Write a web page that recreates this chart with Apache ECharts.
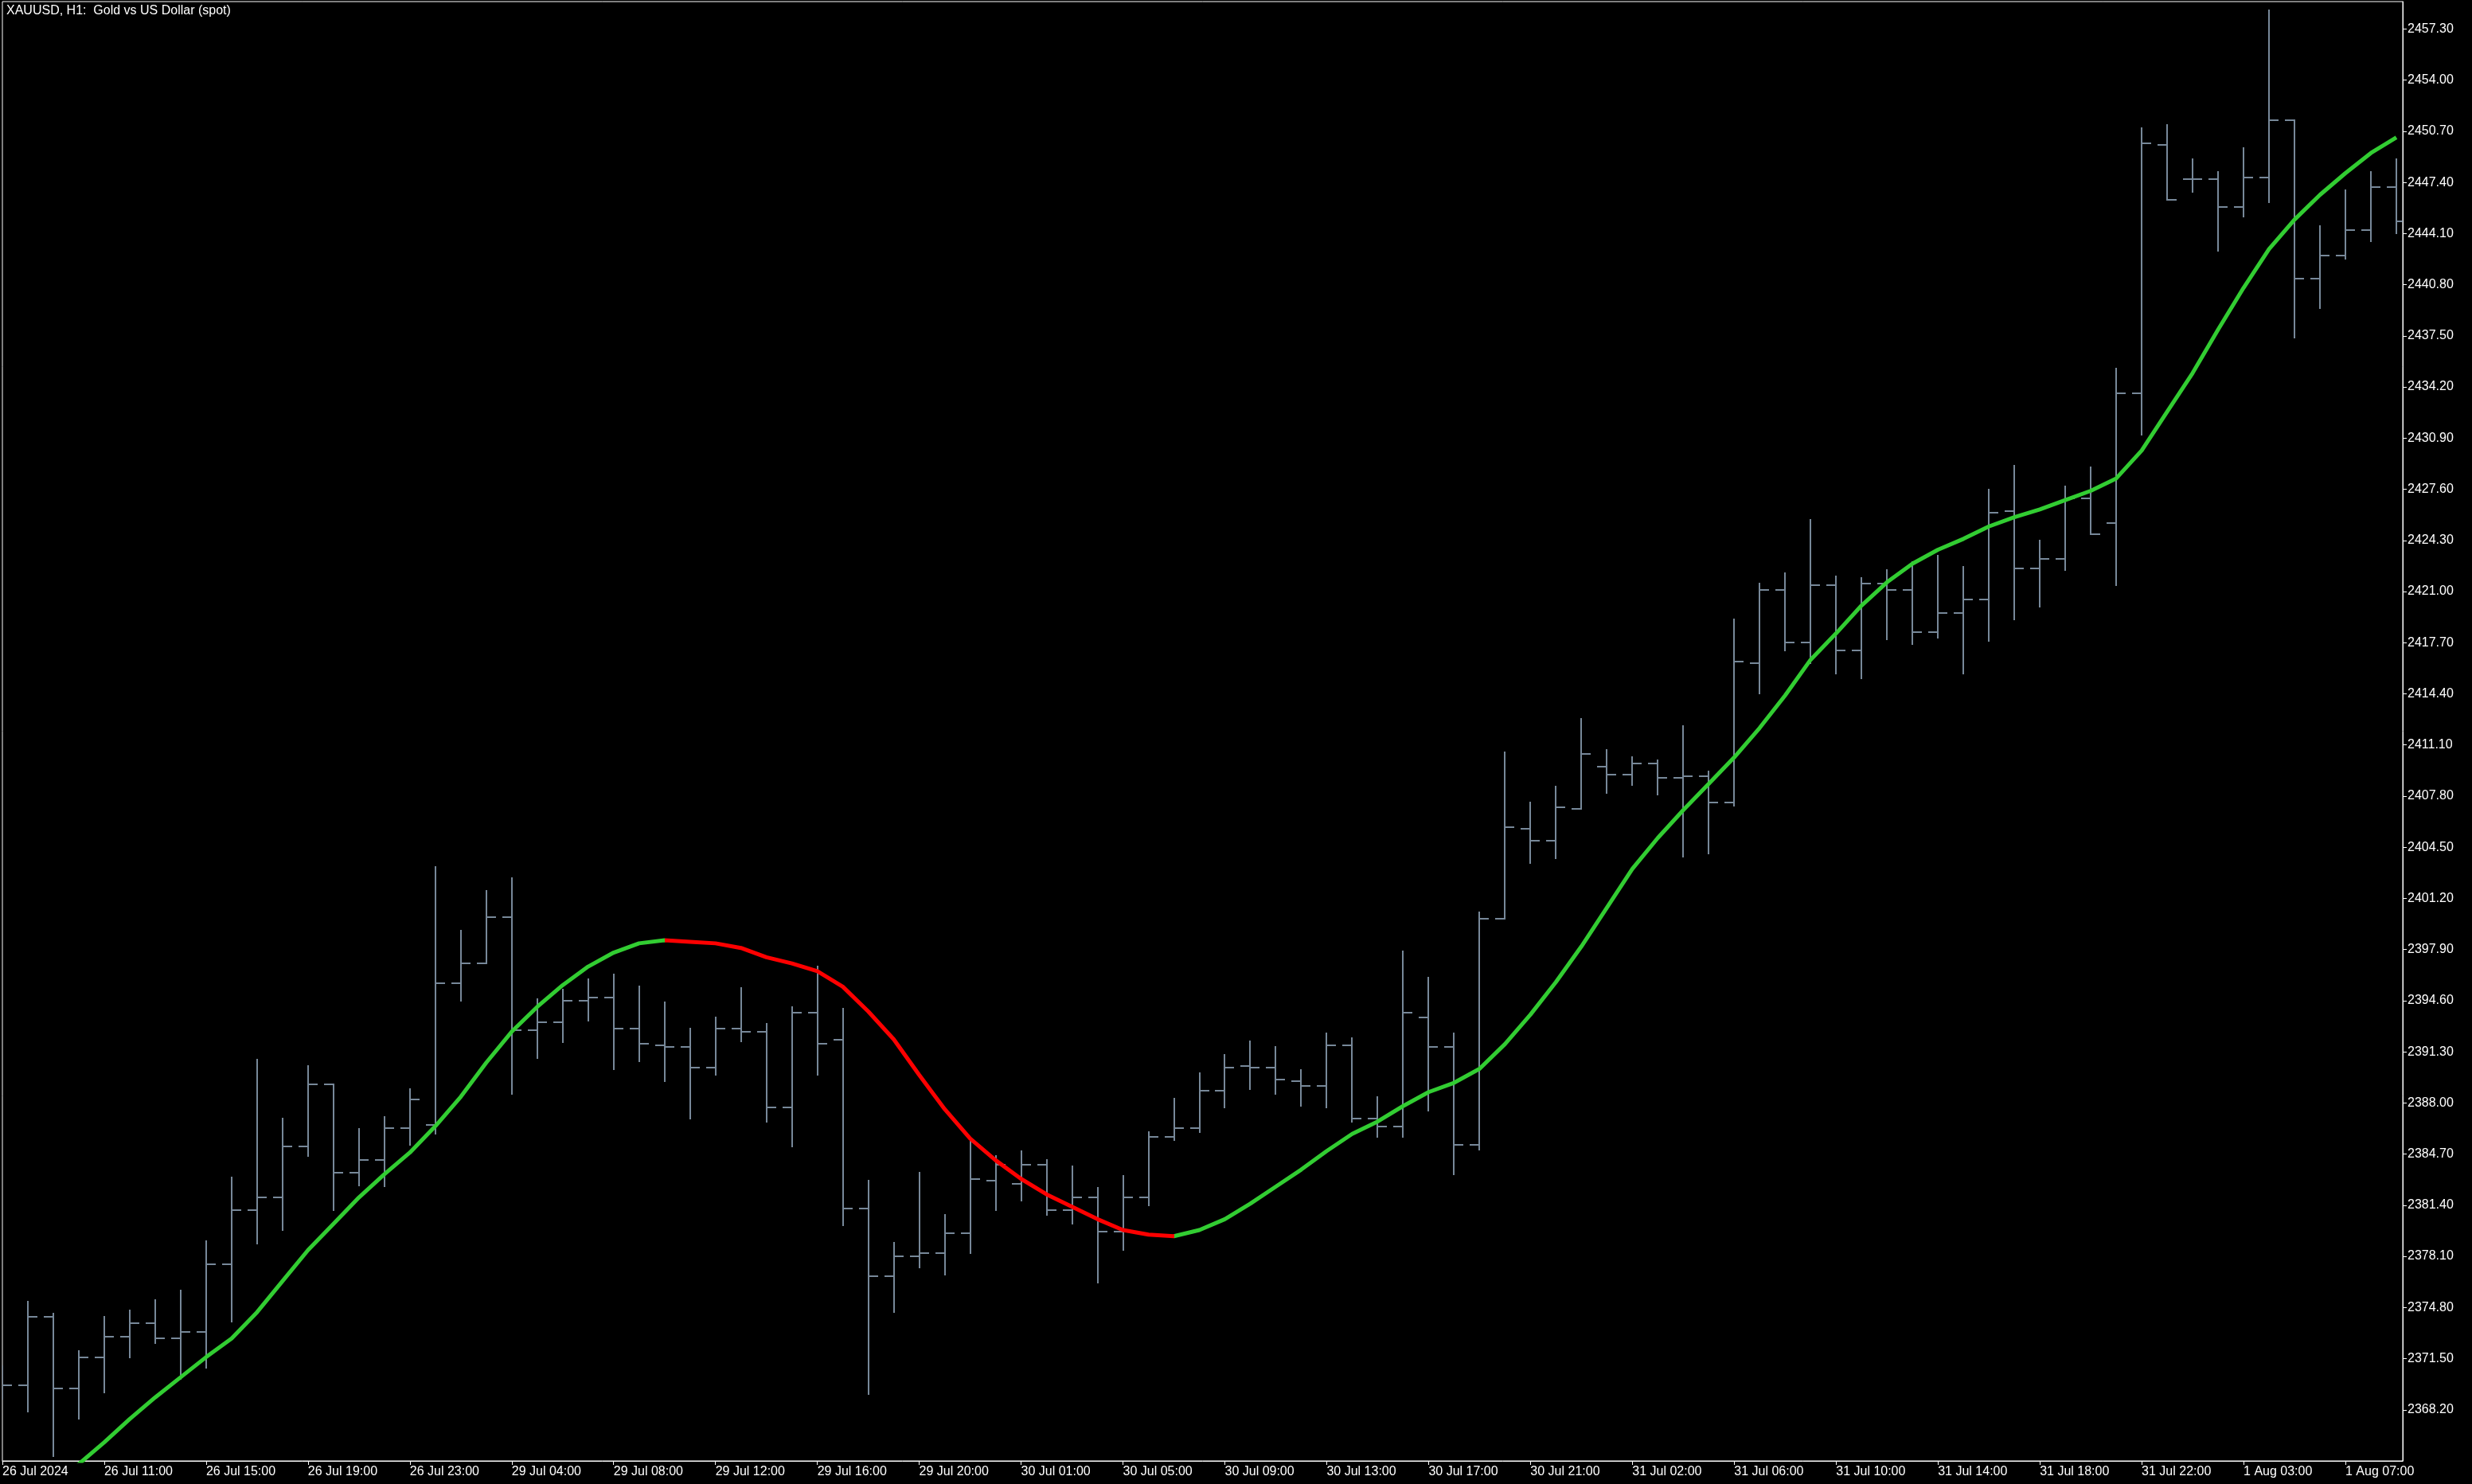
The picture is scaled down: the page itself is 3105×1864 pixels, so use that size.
<!DOCTYPE html>
<html>
<head>
<meta charset="utf-8">
<title>XAUUSD H1</title>
<script src="https://cdn.jsdelivr.net/npm/echarts@6/dist/echarts.min.js"></script>
<style>
  html, body { margin: 0; padding: 0; background: #000; }
  #main { width: 3105px; height: 1864px; }
</style>
</head>
<body>
<div id="main"></div>
<script>
// hourly bars, 26 Jul 2024 07:00 .. 1 Aug 2024 09:00
const opens = [
  2370.3, 2369.8, 2374.2, 2369.6, 2371.6, 2372.9, 2373.8, 2372.8, 2373.2, 2377.6,
  2381.1, 2381.9, 2385.2, 2389.2, 2383.5, 2384.3, 2386.4, 2386.6, 2395.7, 2397.0,
  2400.0, 2392.7, 2393.2, 2394.6, 2394.8, 2392.8, 2391.7, 2391.6, 2390.3, 2392.8,
  2392.6, 2387.7, 2393.8, 2392.1, 2381.2, 2376.8, 2378.1, 2378.3, 2379.6, 2383.0,
  2382.8, 2384.0, 2381.1, 2381.9, 2379.7, 2381.9, 2385.8, 2386.4, 2388.8, 2390.4,
  2390.3, 2389.4, 2389.1, 2391.7, 2387.0, 2386.5, 2393.5, 2391.6, 2385.3, 2399.9,
  2405.7, 2404.9, 2407.0, 2409.7, 2409.2, 2409.9, 2409.0, 2409.1, 2407.4, 2416.4,
  2421.1, 2417.7, 2421.4, 2417.2, 2421.5, 2421.1, 2418.4, 2419.6, 2420.5, 2426.2,
  2422.5, 2423.1, 2427.0, 2425.4, 2433.8, 2449.8, 2447.6, 2447.6, 2445.8, 2447.7,
  2451.4, 2441.2, 2442.7, 2444.3, 2447.1
];
const highs = [
  2371.0, 2375.2, 2374.4, 2372.0, 2374.2, 2374.6, 2375.3, 2375.9, 2379.1, 2383.2,
  2390.8, 2387.0, 2390.4, 2389.2, 2386.3, 2387.1, 2388.9, 2403.2, 2399.1, 2401.7,
  2402.5, 2394.7, 2395.3, 2396.0, 2396.3, 2395.5, 2394.5, 2392.8, 2393.5, 2395.4,
  2393.1, 2394.2, 2396.8, 2394.1, 2383.0, 2379.0, 2383.5, 2380.8, 2385.5, 2384.6,
  2384.9, 2384.3, 2383.9, 2382.5, 2383.3, 2386.1, 2388.3, 2389.9, 2391.1, 2392.0,
  2391.6, 2390.1, 2392.5, 2392.2, 2388.4, 2397.8, 2396.1, 2392.5, 2400.3, 2410.6,
  2407.4, 2408.4, 2412.8, 2410.8, 2410.3, 2410.1, 2412.3, 2409.4, 2419.2, 2421.5,
  2422.2, 2425.6, 2422.0, 2421.9, 2422.4, 2422.9, 2423.3, 2422.6, 2427.6, 2429.1,
  2424.3, 2427.8, 2429.0, 2435.4, 2450.9, 2451.1, 2448.9, 2448.1, 2449.6, 2458.5,
  2451.4, 2444.6, 2446.9, 2448.1, 2448.9
];
const lows = [
  2368.9, 2368.1, 2365.2, 2367.6, 2369.3, 2371.6, 2372.5, 2370.2, 2370.9, 2373.9,
  2378.9, 2379.8, 2384.6, 2381.1, 2382.7, 2382.6, 2385.3, 2386.0, 2394.6, 2397.0,
  2388.6, 2390.9, 2391.9, 2393.3, 2390.2, 2390.7, 2389.4, 2387.0, 2389.8, 2392.0,
  2386.8, 2385.2, 2389.8, 2380.1, 2369.2, 2374.5, 2377.4, 2376.9, 2378.3, 2381.1,
  2381.7, 2380.8, 2380.2, 2376.4, 2378.5, 2381.4, 2385.6, 2386.1, 2387.7, 2388.9,
  2388.6, 2387.8, 2387.7, 2386.8, 2385.8, 2385.8, 2387.5, 2383.4, 2385.0, 2399.9,
  2403.5, 2403.8, 2407.0, 2408.0, 2408.5, 2407.9, 2403.9, 2404.1, 2407.2, 2414.4,
  2417.2, 2416.4, 2415.7, 2415.4, 2417.9, 2417.6, 2418.0, 2415.7, 2417.8, 2419.2,
  2420.0, 2422.4, 2424.7, 2421.4, 2431.1, 2446.3, 2446.8, 2443.0, 2445.2, 2446.1,
  2437.4, 2439.3, 2442.5, 2443.6, 2444.1
];
const closes = [
  2369.8, 2374.2, 2369.6, 2371.6, 2372.9, 2373.8, 2372.8, 2373.2, 2377.6, 2381.1,
  2381.9, 2385.2, 2389.2, 2383.5, 2384.3, 2386.4, 2388.2, 2395.7, 2397.0, 2400.0,
  2392.7, 2393.2, 2394.6, 2394.8, 2392.8, 2391.8, 2391.6, 2390.3, 2392.8, 2392.6,
  2387.7, 2393.8, 2391.8, 2381.2, 2376.8, 2378.1, 2378.3, 2379.6, 2383.1, 2384.0,
  2384.0, 2381.1, 2381.9, 2379.7, 2381.9, 2385.8, 2386.4, 2388.8, 2390.3, 2390.3,
  2389.5, 2389.1, 2391.7, 2387.0, 2386.5, 2393.8, 2391.6, 2385.3, 2399.9, 2405.8,
  2404.9, 2407.1, 2410.5, 2409.2, 2409.9, 2409.0, 2409.1, 2407.4, 2416.5, 2421.1,
  2417.7, 2421.4, 2417.2, 2421.5, 2421.1, 2418.4, 2419.6, 2420.5, 2426.1, 2422.5,
  2423.1, 2427.0, 2424.7, 2433.8, 2449.9, 2446.3, 2447.6, 2445.8, 2447.7, 2451.4,
  2441.2, 2442.7, 2444.3, 2447.1, 2444.9
];
// moving average line
const ma = [
  2360.4, 2361.8, 2363.3, 2364.7, 2366.1, 2367.6, 2369.0, 2370.3, 2371.6, 2372.8,
  2374.5, 2376.5, 2378.5, 2380.2, 2381.9, 2383.4, 2384.8, 2386.5, 2388.4, 2390.6,
  2392.6, 2394.2, 2395.6, 2396.8, 2397.7, 2398.3, 2398.5, 2398.4, 2398.3, 2398.0,
  2397.4, 2397.0, 2396.5, 2395.5, 2393.9, 2392.1, 2389.8, 2387.6, 2385.7, 2384.3,
  2383.1, 2382.1, 2381.3, 2380.5, 2379.8, 2379.5, 2379.4, 2379.8, 2380.5, 2381.5,
  2382.6, 2383.7, 2384.9, 2386.0, 2386.8, 2387.8, 2388.7, 2389.3, 2390.2, 2391.8,
  2393.7, 2395.8, 2398.1, 2400.6, 2403.1, 2405.1, 2406.9, 2408.6, 2410.3, 2412.2,
  2414.3, 2416.6, 2418.3, 2420.1, 2421.6, 2422.8, 2423.7, 2424.4, 2425.2, 2425.8,
  2426.3, 2426.9, 2427.5, 2428.3, 2430.1, 2432.6, 2435.1, 2437.9, 2440.6, 2443.1,
  2445.0, 2446.6, 2448.0, 2449.3, 2450.3
];
// bars where the average is falling (drawn red)
const maDownRange = [26, 46];

// one time label every 4 bars, starting at bar 0
const labelStep = 4;
const timeLabels = [
  "26 Jul 2024", "26 Jul 11:00", "26 Jul 15:00", "26 Jul 19:00", "26 Jul 23:00",
  "29 Jul 04:00", "29 Jul 08:00", "29 Jul 12:00", "29 Jul 16:00", "29 Jul 20:00",
  "30 Jul 01:00", "30 Jul 05:00", "30 Jul 09:00", "30 Jul 13:00", "30 Jul 17:00",
  "30 Jul 21:00", "31 Jul 02:00", "31 Jul 06:00", "31 Jul 10:00", "31 Jul 14:00",
  "31 Jul 18:00", "31 Jul 22:00", "1 Aug 03:00", "1 Aug 07:00"
];
const priceTicks = [
  2368.2, 2371.5, 2374.8, 2378.1, 2381.4, 2384.7, 2388.0, 2391.3, 2394.6, 2397.9,
  2401.2, 2404.5, 2407.8, 2411.1, 2414.4, 2417.7, 2421.0, 2424.3, 2427.6, 2430.9,
  2434.2, 2437.5, 2440.8, 2444.1, 2447.4, 2450.7, 2454.0, 2457.3
];

const FONT = "'Liberation Sans', Arial, sans-serif";
const BAR_COLOR = "#778899";
const UP_COLOR = "#32cd32";
const DOWN_COLOR = "#ff0000";

const barData = opens.map((o, i) => [i, o, highs[i], lows[i], closes[i]]);
const maData = ma.map((v, i) => [i, v]);
const labelPositions = timeLabels.map((_, k) => k * labelStep);

function renderBar(params, api) {
  const i = api.value(0);
  const x = Math.round(api.coord([i, api.value(1)])[0]);
  const yO = Math.round(api.coord([i, api.value(1)])[1]);
  const yH = Math.round(api.coord([i, api.value(2)])[1]);
  const yL = Math.round(api.coord([i, api.value(3)])[1]);
  const yC = Math.round(api.coord([i, api.value(4)])[1]);
  const tick = Math.round(api.size([1, 0])[0] * 0.375);
  const style = { stroke: BAR_COLOR, lineWidth: 2 };
  return {
    type: "group",
    children: [
      { type: "line", shape: { x1: x, y1: yH - 1, x2: x, y2: yL + 1 }, style },
      { type: "line", shape: { x1: x - tick, y1: yO, x2: x, y2: yO }, style },
      { type: "line", shape: { x1: x, y1: yC, x2: x + tick, y2: yC }, style }
    ]
  };
}

const options = {
  backgroundColor: "#000",
  animation: false,
  title: {
    text: "XAUUSD, H1:  Gold vs US Dollar (spot)",
    left: 8,
    top: 6,
    padding: 0,
    textStyle: { color: "#fff", fontSize: 16, fontWeight: "normal", fontFamily: FONT }
  },
  grid: {
    left: 2,
    top: 2,
    right: 87,
    bottom: 29,
    show: true,
    backgroundColor: "#000",
    borderColor: "#fff",
    borderWidth: 1
  },
  xAxis: {
    type: "value",
    min: 0,
    max: 94.25,
    splitLine: { show: false },
    axisLine: { show: true, onZero: false, lineStyle: { color: "#fff", width: 1 } },
    axisTick: {
      show: true,
      length: 5,
      customValues: labelPositions,
      lineStyle: { color: "#fff", width: 1 }
    },
    axisLabel: {
      customValues: labelPositions,
      formatter: (v) => timeLabels[Math.round(v / labelStep)],
      align: "left",
      margin: 6,
      color: "#fff",
      fontSize: 16,
      fontFamily: FONT
    }
  },
  yAxis: {
    type: "value",
    position: "right",
    scale: true,
    min: 2364.9,
    max: 2459.07,
    splitLine: { show: false },
    axisLine: { show: true, onZero: false, lineStyle: { color: "#fff", width: 1 } },
    axisTick: {
      show: true,
      length: 5,
      customValues: priceTicks,
      lineStyle: { color: "#fff", width: 1 }
    },
    axisLabel: {
      customValues: priceTicks,
      formatter: (v) => v.toFixed(2),
      margin: 6,
      color: "#fff",
      fontSize: 16,
      fontFamily: FONT
    }
  },
  visualMap: {
    type: "piecewise",
    show: false,
    seriesIndex: 1,
    dimension: 0,
    pieces: [
      { lt: maDownRange[0], color: UP_COLOR },
      { gte: maDownRange[0], lte: maDownRange[1], color: DOWN_COLOR },
      { gt: maDownRange[1], color: UP_COLOR }
    ]
  },
  series: [
    {
      type: "custom",
      name: "XAUUSD",
      renderItem: renderBar,
      clip: true,
      encode: { x: 0, y: [1, 2, 3, 4] },
      data: barData,
      z: 2
    },
    {
      type: "line",
      name: "MA",
      data: maData,
      showSymbol: false,
      symbol: "none",
      smooth: false,
      clip: true,
      lineStyle: { width: 5 },
      z: 3
    }
  ]
};

var myChart = echarts.init(document.querySelector("#main"));
myChart.setOption(options);
window.onresize = function() {
  myChart.resize();
};
</script>
</body>
</html>
